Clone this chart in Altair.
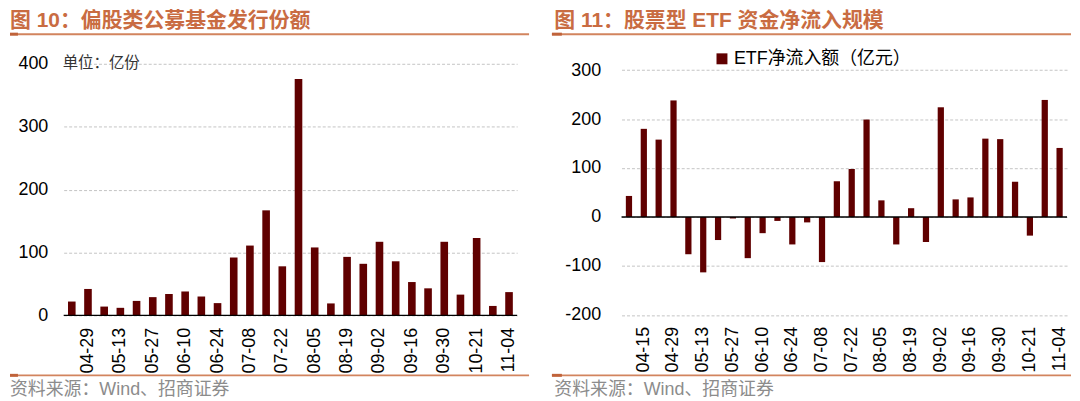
import altair as alt
import pandas as pd

# ---------------- data ----------------
dates_left = ["04-22", "04-29", "05-06", "05-13", "05-20", "05-27", "06-03", "06-10",
              "06-17", "06-24", "07-01", "07-08", "07-15", "07-22", "07-29", "08-05",
              "08-12", "08-19", "08-26", "09-02", "09-09", "09-16", "09-23", "09-30",
              "10-14", "10-21", "10-28", "11-04"]
issue_left = [22, 42, 14, 12, 23, 29, 34, 38, 30, 19.5, 92, 111, 167, 78, 376, 108,
              19, 93, 82, 117, 86, 53, 43, 117, 33, 123, 15, 37]

dates_right = ["04-08", "04-15", "04-22", "04-29", "05-06", "05-13", "05-20", "05-27",
               "06-03", "06-10", "06-17", "06-24", "07-01", "07-08", "07-15", "07-22",
               "07-29", "08-05", "08-12", "08-19", "08-26", "09-02", "09-09", "09-16",
               "09-23", "09-30", "10-14", "10-21", "10-28", "11-04"]
flow_right = [43, 180, 158, 238, -76, -113, -47, -3, -84, -33, -8, -56, -11, -92, 73,
              98, 199, 34, -56, 18, -51, 224, 36, 40, 160, 159, 72, -38, 239, 141]

labels_left = dates_left[1::2]
labels_right = dates_right[1::2]
yticks_left = [0, 100, 200, 300, 400]
yticks_right = [-200, -100, 0, 100, 200, 300]

title_left = "图 10：偏股类公募基金发行份额"
title_right = "图 11：股票型 ETF 资金净流入规模"
unit_left = "单位：亿份"
series_right = "ETF净流入额（亿元）"
source_text = "资料来源：Wind、招商证券"

# ---------------- style ----------------
BAR = "#600000"
ACCENT_TEXT = "#C96C42"
ACCENT_LINE = "#D2845E"
TAB = "#C0633A"
GRID = "#C4C4C4"
FONT = "Liberation Sans, Noto Sans CJK SC"
CJK = "Noto Sans CJK SC"


def text_layer(txt, x, y, size, color, weight="normal", font=FONT):
    return alt.Chart(pd.DataFrame({"t": [txt]})).mark_text(
        align="left", baseline="middle", fontSize=size, color=color,
        fontWeight=weight, font=font
    ).encode(text="t:N", x=alt.value(x), y=alt.value(y))


def hline(x1, x2, y, color, w):
    return alt.Chart(pd.DataFrame({"k": [0]})).mark_rule(
        color=color, strokeWidth=w
    ).encode(x=alt.value(x1), x2=alt.value(x2), y=alt.value(y))


def x_axis(vals, pad):
    return alt.Axis(values=vals, labelAngle=270, labelPadding=pad, domain=False,
                    ticks=False, grid=False, labelOverlap=False, labelFont="Liberation Sans",
                    labelFontSize=18, labelColor="#000")


def y_axis(vals, pad):
    return alt.Axis(values=vals, labelPadding=pad, domain=False, ticks=False, grid=True,
                    gridDash=[3, 2], gridColor=GRID, gridWidth=1,
                    labelExpr="'' + datum.value", labelFont="Liberation Sans",
                    labelFontSize=18, labelColor="#000")


# both panels share the same plot origin (page y ~61.7)
TITLE_Y = -43.2
ULINE_Y = -29.8
FLINE_Y = 313.3
FTEXT_Y = 328.3

# ---------------- left panel ----------------
W1, H1 = 456, 253
df1 = pd.DataFrame({"d": dates_left, "v": issue_left})
bars1 = alt.Chart(df1).mark_bar(color=BAR).encode(
    x=alt.X("d:N", sort=None, title=None,
            scale=alt.Scale(paddingInner=0.53, paddingOuter=0.265),
            axis=x_axis(labels_left, 12)),
    y=alt.Y("v:Q", title=None, scale=alt.Scale(domain=[0, 400], nice=False),
            axis=y_axis(yticks_left, 16)),
)
zero1 = alt.Chart(pd.DataFrame({"k": [0]})).mark_rule(color="#000", strokeWidth=1.5).encode(
    y=alt.datum(0))

left = alt.layer(
    bars1, zero1,
    text_layer(title_left, -54, TITLE_Y, 21, ACCENT_TEXT, "bold"),
    hline(-54, 468, ULINE_Y, ACCENT_LINE, 2),
    hline(-54, -46, ULINE_Y, TAB, 3),
    text_layer(unit_left, -1, -1, 15.5, "#333333", font=CJK),
    hline(-54, 468, FLINE_Y, ACCENT_LINE, 1.8),
    hline(-54, -46, FLINE_Y, TAB, 3),
    text_layer(source_text, -54, FTEXT_Y, 18, "#8C8C8C"),
).properties(width=W1, height=H1)

# ---------------- right panel ----------------
W2, H2 = 448, 253
df2 = pd.DataFrame({"d": dates_right, "v": flow_right, "s": [series_right] * len(dates_right)})
bars2 = alt.Chart(df2).mark_bar().encode(
    x=alt.X("d:N", sort=None, title=None,
            scale=alt.Scale(paddingInner=0.58, paddingOuter=0.29),
            axis=x_axis(labels_right, 11)),
    y=alt.Y("v:Q", title=None,
            scale=alt.Scale(domain=[-200, 300], range=[252.6, 6.3], nice=False),
            axis=y_axis(yticks_right, 21)),
    color=alt.Color("s:N", scale=alt.Scale(range=[BAR]),
                    legend=alt.Legend(orient="none", legendX=92, legendY=-14, title=None,
                                      symbolType="square", symbolSize=121,
                                      symbolStrokeWidth=0, labelFontSize=18,
                                      labelFont=FONT, labelColor="#000", labelOffset=3,
                                      labelLimit=400, padding=0)),
)
zero2 = alt.Chart(pd.DataFrame({"k": [0]})).mark_rule(color="#000", strokeWidth=1.5).encode(
    y=alt.datum(0))

right = alt.layer(
    bars2, zero2,
    text_layer(title_right, -67.6, TITLE_Y, 21, ACCENT_TEXT, "bold"),
    hline(-70, 452, ULINE_Y, ACCENT_LINE, 2),
    hline(-70, -60, ULINE_Y, TAB, 3),
    hline(-70, 452, FLINE_Y, ACCENT_LINE, 1.8),
    hline(-70, -60, FLINE_Y, TAB, 3),
    text_layer(source_text, -67.6, FTEXT_Y, 18, "#8C8C8C"),
).properties(width=W2, height=H2)

chart = alt.hconcat(left, right, spacing=20).resolve_scale(
    color="independent"
).resolve_legend(color="independent").properties(
    padding=0, background="white"
).configure_view(stroke=None)

chart.save("out.html", embed_options={"renderer": "svg", "actions": False})
